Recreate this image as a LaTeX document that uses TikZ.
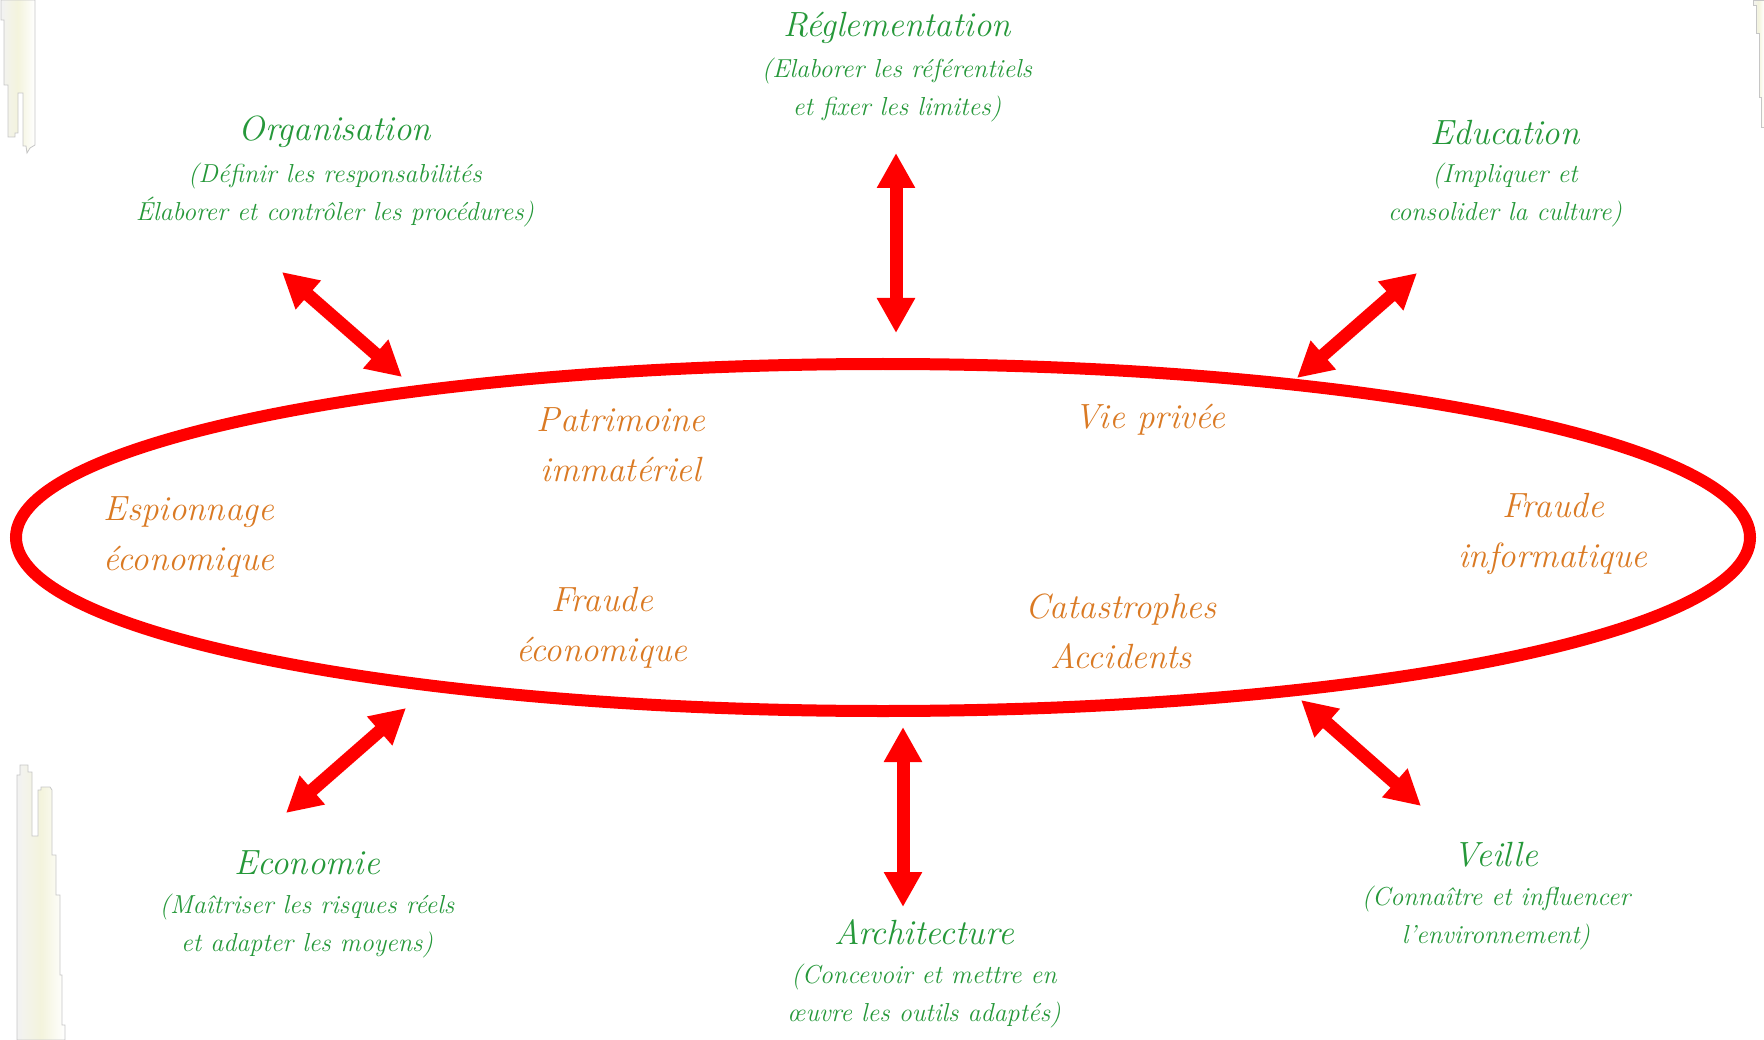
\documentclass[tikz,border=0pt]{standalone}
\usepackage{fontspec}
\usepackage{tikz}
\usetikzlibrary{arrows.meta}
\definecolor{ringred}{RGB}{255,0,0}
\definecolor{axegreen}{RGB}{38,152,58}
\definecolor{risqueorange}{RGB}{218,122,36}
\tikzset{>={Triangle[width=36pt,length=35pt]}}

\begin{document}
\begin{tikzpicture}[x=1pt,y=-1pt,
  axe/.style={text=axegreen,font=\itshape\fontsize{35}{38}\selectfont},
  axesub/.style={text=axegreen,font=\itshape\fontsize{26}{38}\selectfont,align=center},
  risque/.style={text=risqueorange,font=\itshape\fontsize{35}{50}\selectfont,align=center},
  lien/.style={<->,ringred,line width=13pt},
  tour/.style={draw=gray!45,line width=0.8pt,left color=gray!10,right color=white,middle color=olive!9}]
\useasboundingbox (0,0) rectangle (1764,1040);

% decor on the edges
\shade[tour] (1,0) -- (1,20) -- (4,20) -- (4,85) -- (8,85) -- (8,137) -- (15,137) -- (15,133) -- (18,133)
  -- (18,93) -- (23,93) -- (23,146) -- (26,146) -- (27,153) -- (30,148) -- (35,145) -- (35,0) -- cycle;
\shade[tour] (17,1040) -- (17,775) -- (20,775) -- (20,765) -- (28,765) -- (28,772) -- (32,772) -- (32,836)
  -- (38,836) -- (38,790) -- (41,790) -- (41,787) -- (50,787) -- (52,790) -- (52,855) -- (56,855)
  -- (56,895) -- (60,895) -- (60,975) -- (62,975) -- (62,1025) -- (65,1025) -- (65,1040) -- cycle;
\shade[tour] (1753,0) -- (1753,5) -- (1756,5) -- (1756,33) -- (1759,33) -- (1759,97) -- (1761,97)
  -- (1761,127) -- (1764,127) -- (1764,0) -- cycle;

% the ring
\draw[ringred,line width=12pt] (883,537.5) ellipse [x radius=867pt, y radius=173.5pt];

% risks inside
\node[risque] (patri) at (621,445) {Patrimoine\\immatériel};
\node[risque] (vie) at (1150,420) {Vie privée};
\node[risque] (espion) at (189,537) {Espionnage\\économique};
\node[risque] (fraudeinfo) at (1553,534) {Fraude\\informatique};
\node[risque] (fraudeeco) at (602,628) {Fraude\\économique};
\node[risque] (catas) at (1121,631) {Catastrophes\\Accidents};

% axes outside
\node[axe] (regl) at (897,28) {Réglementation};
\node[axesub] (reglsub) at (897,90) {(Elaborer les référentiels\\et fixer les limites)};
\node[axe] (orga) at (335,132) {Organisation};
\node[axesub] (orgasub) at (335,195) {(Définir les responsabilités\\Élaborer et contrôler les procédures)};
\node[axe] (educ) at (1505,133) {Education};
\node[axesub] (educsub) at (1505,195) {(Impliquer et\\consolider la culture)};
\node[axe] (eco) at (307,863) {Economie};
\node[axesub] (ecosub) at (307,926) {(Maîtriser les risques réels\\et adapter les moyens)};
\node[axe] (archi) at (924,932) {Architecture};
\node[axesub] (archisub) at (924,996) {(Concevoir et mettre en\\œuvre les outils adaptés)};
\node[axe] (veille) at (1496,855) {Veille};
\node[axesub] (veillesub) at (1496,918) {(Connaître et influencer\\l’environnement)};

% arrow ends
\coordinate (r1) at (896,153);   \coordinate (r2) at (896,333);
\coordinate (o1) at (282,272);   \coordinate (o2) at (402,377);
\coordinate (e1) at (1417,273);  \coordinate (e2) at (1297,378);
\coordinate (c1) at (286,813);   \coordinate (c2) at (406,708);
\coordinate (a1) at (903,907);   \coordinate (a2) at (903,727);
\coordinate (v1) at (1421,806);  \coordinate (v2) at (1301,700);

\draw[lien] (r1) -- (r2);
\draw[lien] (o1) -- (o2);
\draw[lien] (e1) -- (e2);
\draw[lien] (c1) -- (c2);
\draw[lien] (a1) -- (a2);
\draw[lien] (v1) -- (v2);
\end{tikzpicture}
\end{document}
